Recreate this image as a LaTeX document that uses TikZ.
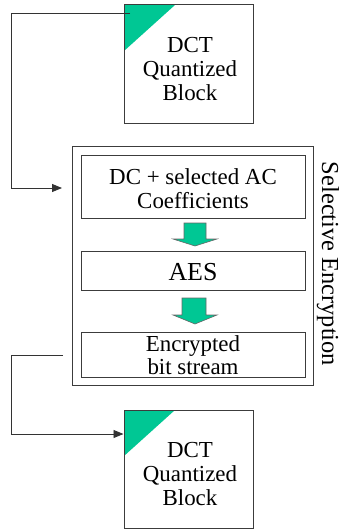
\documentclass[tikz,border=0pt]{standalone}
\usepackage{fontspec}
\setmainfont{Liberation Serif}
\usetikzlibrary{arrows.meta,positioning}
\definecolor{tgreen}{RGB}{0,199,148}
\definecolor{edge}{RGB}{60,60,60}
\begin{document}
\begin{tikzpicture}[x=1bp,y=-1bp,
  blockbox/.style={draw=edge,line width=1bp,rectangle,inner sep=0pt},
  txt/.style={align=center,inner sep=0pt,font=\fontsize{23}{24.2}\selectfont},
  conn/.style={draw=black!80,line width=0.9bp,-{Triangle[length=10bp,width=8bp]}},
  plain/.style={draw=black!80,line width=0.9bp},
  greenarrow/.style={fill=tgreen,draw=black!60,line width=0.6bp}]
\useasboundingbox (0,0) rectangle (341,529);
% top block
\fill[tgreen] (124,5) -- (175,5) -- (124,51) -- cycle;
\node[blockbox,minimum width=129bp,minimum height=119bp] (topblock) at (188.5,64.5) {};
\node[txt] (toptext) at (190,69.2) {DCT\\Quantized\\Block};
% outer box
\node[blockbox,minimum width=241bp,minimum height=238bp] (outer) at (192.5,266) {};
\node[blockbox,minimum width=224bp,minimum height=62bp] (coef) at (193,187) {};
\node[txt] (coeftext) at (193,188.3) {DC + selected AC\\Coefficients};
\node[blockbox,minimum width=224bp,minimum height=39bp] (aes) at (193,270.5) {};
\node[txt,font=\fontsize{26}{28}\selectfont] (aestext) at (193,272.5) {AES};
\node[blockbox,minimum width=224bp,minimum height=45bp] (enc) at (193,354.5) {};
\node[txt,font=\fontsize{23}{23.5}\selectfont] (enctext) at (193,355) {Encrypted\\bit stream};
\node[rotate=-90,inner sep=0pt,font=\fontsize{24.5}{26}\selectfont] (sel) at (328,264) {Selective Encryption};
% green block arrows
\draw[greenarrow] (184,223) -- (206,223) -- (206,239) -- (217,239) -- (195,246) -- (173,239) -- (184,239) -- cycle;
\draw[greenarrow] (182,298) -- (206,298) -- (206,315) -- (217,315) -- (195,324) -- (173,315) -- (182,315) -- cycle;
% bottom block
\fill[tgreen] (124,410) -- (175,410) -- (124,456) -- cycle;
\node[blockbox,minimum width=129bp,minimum height=118bp] (botblock) at (188.5,469) {};
\node[txt] (bottext) at (190,474) {DCT\\Quantized\\Block};
% connectors
\coordinate (s1) at (130,13);
\coordinate (c1) at (11,13);
\coordinate (t1) at (62,188);
\draw[conn] (s1) -- (c1) |- (t1);
\coordinate (s2) at (63,355);
\coordinate (c2) at (11,355);
\coordinate (c3) at (11,434);
\draw[conn] (s2) -- (c2) -- (c3) -- (botblock.west |- c3);
\end{tikzpicture}
\end{document}
